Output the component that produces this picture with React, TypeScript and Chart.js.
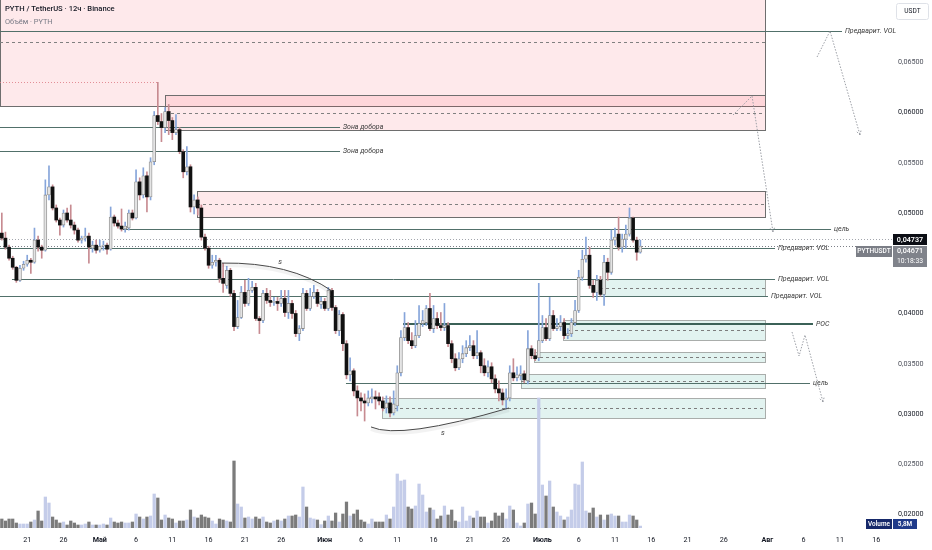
import { useEffect, useRef } from 'react';
import { Chart, registerables } from 'chart.js';

Chart.register(...registerables);

// ---- time axis: days counted from 21 April (12h candles) ----
const FIRST_CANDLE_DAY = -3.5;
const CANDLE_STEP_DAYS = 0.5;
const X_MIN_DAY = -3.75;
const X_MAX_DAY = 119.18;

const X_TICK_DAYS = [0, 5, 10, 15, 20, 25, 30, 35, 41, 46, 51, 56, 61, 66, 71, 76, 81, 86, 91, 96, 102, 107, 112, 117];
const X_TICK_LABELS = ['21', '26', 'Май', '6', '11', '16', '21', '26', 'Июн', '6', '11', '16', '21', '26', 'Июль', '6', '11', '16', '21', '26', 'Авг', '6', '11', '16'];
const MONTH_LABELS = ['Май', 'Июн', 'Июль', 'Авг'];

const PRICE_TICKS = [0.02, 0.025, 0.03, 0.035, 0.04, 0.045, 0.05, 0.055, 0.06, 0.065];
const PRICE_MIN = 0.018657;
const PRICE_MAX = 0.071194;

// ---- PYTH/USDT 12h candles ----
const OPEN = [
  0.0480, 0.0475, 0.0466, 0.0455, 0.0446, 0.0433, 0.0445, 0.0449, 0.0453, 0.0451,
  0.0473, 0.0466, 0.0463, 0.0518, 0.0526, 0.0505, 0.0493, 0.0488, 0.0500, 0.0493,
  0.0488, 0.0483, 0.0473, 0.0475, 0.0477, 0.0465, 0.0468, 0.0463, 0.0467, 0.0468,
  0.0464, 0.0496, 0.0490, 0.0487, 0.0484, 0.0485, 0.0500, 0.0495, 0.0531, 0.0518,
  0.0537, 0.0516, 0.0551, 0.0597, 0.0591, 0.0585, 0.0601, 0.0592, 0.0580, 0.0583,
  0.0561, 0.0541, 0.0546, 0.0506, 0.0513, 0.0505, 0.0476, 0.0465, 0.0448, 0.0451,
  0.0453, 0.0435, 0.0428, 0.0443, 0.0420, 0.0387, 0.0396, 0.0421, 0.0410, 0.0423,
  0.0426, 0.0395, 0.0393, 0.0420, 0.0413, 0.0411, 0.0412, 0.0410, 0.0415, 0.0401,
  0.0410, 0.0400, 0.0380, 0.0385, 0.0420, 0.0405, 0.0417, 0.0421, 0.0409, 0.0412,
  0.0405, 0.0423, 0.0406, 0.0383, 0.0399, 0.0370, 0.0339, 0.0343, 0.0323, 0.0316,
  0.0313, 0.0311, 0.0315, 0.0317, 0.0317, 0.0313, 0.0306, 0.0311, 0.0301, 0.0308,
  0.0341, 0.0376, 0.0386, 0.0373, 0.0368, 0.0378, 0.0390, 0.0391, 0.0405, 0.0385,
  0.0395, 0.0388, 0.0386, 0.0388, 0.0370, 0.0355, 0.0346, 0.0355, 0.0360, 0.0366,
  0.0368, 0.0358, 0.0361, 0.0348, 0.0341, 0.0347, 0.0335, 0.0325, 0.0321, 0.0314,
  0.0316, 0.0341, 0.0336, 0.0338, 0.0340, 0.0333, 0.0365, 0.0358, 0.0356, 0.0373,
  0.0386, 0.0375, 0.0398, 0.0385, 0.0387, 0.0391, 0.0378, 0.0380, 0.0391, 0.0403,
  0.0436, 0.0454, 0.0458, 0.0428, 0.0421, 0.0433, 0.0419, 0.0451, 0.0441, 0.0473,
  0.0479, 0.0466, 0.0474, 0.0479, 0.0495, 0.0473, 0.0461,
];
const HIGH = [
  0.0500, 0.0481, 0.0468, 0.0457, 0.0447, 0.0448, 0.0452, 0.0458, 0.0455, 0.0485,
  0.0477, 0.0468, 0.0533, 0.0547, 0.0528, 0.0508, 0.0495, 0.0503, 0.0505, 0.0508,
  0.0491, 0.0485, 0.0477, 0.0485, 0.0480, 0.0472, 0.0473, 0.0473, 0.0472, 0.0470,
  0.0506, 0.0498, 0.0493, 0.0504, 0.0491, 0.0503, 0.0503, 0.0543, 0.0535, 0.0545,
  0.0541, 0.0555, 0.0601, 0.0630, 0.0599, 0.0605, 0.0608, 0.0595, 0.0598, 0.0585,
  0.0563, 0.0566, 0.0548, 0.0518, 0.0516, 0.0508, 0.0479, 0.0467, 0.0458, 0.0458,
  0.0455, 0.0450, 0.0447, 0.0445, 0.0423, 0.0413, 0.0427, 0.0433, 0.0435, 0.0432,
  0.0430, 0.0397, 0.0423, 0.0425, 0.0423, 0.0416, 0.0416, 0.0423, 0.0423, 0.0423,
  0.0413, 0.0403, 0.0388, 0.0425, 0.0423, 0.0425, 0.0428, 0.0424, 0.0416, 0.0415,
  0.0426, 0.0425, 0.0408, 0.0403, 0.0401, 0.0373, 0.0356, 0.0345, 0.0328, 0.0321,
  0.0320, 0.0323, 0.0325, 0.0323, 0.0321, 0.0317, 0.0318, 0.0317, 0.0323, 0.0348,
  0.0383, 0.0401, 0.0391, 0.0381, 0.0393, 0.0408, 0.0403, 0.0408, 0.0420, 0.0408,
  0.0401, 0.0401, 0.0410, 0.0391, 0.0373, 0.0360, 0.0361, 0.0368, 0.0373, 0.0378,
  0.0373, 0.0383, 0.0363, 0.0355, 0.0353, 0.0351, 0.0339, 0.0333, 0.0325, 0.0325,
  0.0348, 0.0355, 0.0347, 0.0348, 0.0343, 0.0383, 0.0368, 0.0364, 0.0430, 0.0398,
  0.0395, 0.0416, 0.0403, 0.0395, 0.0398, 0.0395, 0.0385, 0.0395, 0.0413, 0.0443,
  0.0463, 0.0476, 0.0466, 0.0433, 0.0438, 0.0437, 0.0458, 0.0455, 0.0483, 0.0485,
  0.0496, 0.0479, 0.0488, 0.0505, 0.0496, 0.0476, 0.0473,
];
const LOW = [
  0.0473, 0.0464, 0.0453, 0.0444, 0.0431, 0.0432, 0.0443, 0.0447, 0.0440, 0.0450,
  0.0462, 0.0455, 0.0462, 0.0513, 0.0503, 0.0491, 0.0478, 0.0486, 0.0491, 0.0485,
  0.0479, 0.0471, 0.0470, 0.0472, 0.0450, 0.0461, 0.0460, 0.0461, 0.0463, 0.0459,
  0.0463, 0.0487, 0.0485, 0.0482, 0.0481, 0.0483, 0.0493, 0.0494, 0.0513, 0.0515,
  0.0501, 0.0513, 0.0548, 0.0588, 0.0571, 0.0580, 0.0578, 0.0573, 0.0578, 0.0559,
  0.0535, 0.0538, 0.0501, 0.0499, 0.0498, 0.0473, 0.0463, 0.0445, 0.0445, 0.0447,
  0.0431, 0.0421, 0.0425, 0.0417, 0.0383, 0.0385, 0.0395, 0.0407, 0.0408, 0.0421,
  0.0393, 0.0380, 0.0391, 0.0410, 0.0407, 0.0408, 0.0403, 0.0407, 0.0397, 0.0395,
  0.0395, 0.0377, 0.0373, 0.0383, 0.0403, 0.0403, 0.0415, 0.0407, 0.0405, 0.0403,
  0.0403, 0.0403, 0.0380, 0.0378, 0.0363, 0.0335, 0.0333, 0.0318, 0.0298, 0.0303,
  0.0293, 0.0308, 0.0311, 0.0305, 0.0309, 0.0303, 0.0301, 0.0297, 0.0299, 0.0303,
  0.0338, 0.0373, 0.0370, 0.0365, 0.0366, 0.0376, 0.0387, 0.0388, 0.0383, 0.0381,
  0.0385, 0.0383, 0.0383, 0.0367, 0.0351, 0.0343, 0.0344, 0.0351, 0.0357, 0.0363,
  0.0355, 0.0355, 0.0341, 0.0338, 0.0337, 0.0331, 0.0321, 0.0313, 0.0309, 0.0305,
  0.0313, 0.0333, 0.0333, 0.0334, 0.0331, 0.0330, 0.0355, 0.0353, 0.0353, 0.0371,
  0.0373, 0.0373, 0.0383, 0.0383, 0.0383, 0.0375, 0.0375, 0.0377, 0.0388, 0.0401,
  0.0433, 0.0451, 0.0425, 0.0416, 0.0413, 0.0417, 0.0408, 0.0433, 0.0439, 0.0468,
  0.0463, 0.0461, 0.0465, 0.0477, 0.0471, 0.0453, 0.0460,
];
const CLOSE = [
  0.0475, 0.0466, 0.0455, 0.0446, 0.0433, 0.0445, 0.0449, 0.0453, 0.0451, 0.0473,
  0.0466, 0.0463, 0.0518, 0.0526, 0.0505, 0.0493, 0.0488, 0.0500, 0.0493, 0.0488,
  0.0483, 0.0473, 0.0475, 0.0477, 0.0466, 0.0468, 0.0463, 0.0467, 0.0468, 0.0464,
  0.0496, 0.0490, 0.0487, 0.0484, 0.0487, 0.0500, 0.0495, 0.0531, 0.0518, 0.0537,
  0.0516, 0.0551, 0.0597, 0.0591, 0.0585, 0.0601, 0.0592, 0.0580, 0.0583, 0.0561,
  0.0541, 0.0546, 0.0506, 0.0513, 0.0505, 0.0476, 0.0465, 0.0448, 0.0451, 0.0453,
  0.0435, 0.0430, 0.0443, 0.0420, 0.0387, 0.0396, 0.0421, 0.0410, 0.0423, 0.0426,
  0.0395, 0.0393, 0.0420, 0.0413, 0.0411, 0.0412, 0.0410, 0.0415, 0.0401, 0.0410,
  0.0400, 0.0380, 0.0385, 0.0420, 0.0405, 0.0417, 0.0421, 0.0410, 0.0412, 0.0405,
  0.0423, 0.0406, 0.0383, 0.0399, 0.0370, 0.0339, 0.0343, 0.0323, 0.0316, 0.0313,
  0.0311, 0.0316, 0.0317, 0.0315, 0.0313, 0.0306, 0.0311, 0.0301, 0.0310, 0.0341,
  0.0376, 0.0386, 0.0373, 0.0368, 0.0378, 0.0390, 0.0393, 0.0405, 0.0385, 0.0395,
  0.0388, 0.0386, 0.0388, 0.0370, 0.0355, 0.0346, 0.0355, 0.0360, 0.0366, 0.0368,
  0.0358, 0.0361, 0.0348, 0.0341, 0.0347, 0.0335, 0.0325, 0.0321, 0.0314, 0.0316,
  0.0341, 0.0336, 0.0339, 0.0340, 0.0334, 0.0365, 0.0358, 0.0355, 0.0373, 0.0386,
  0.0375, 0.0398, 0.0385, 0.0387, 0.0391, 0.0378, 0.0380, 0.0391, 0.0403, 0.0436,
  0.0454, 0.0458, 0.0428, 0.0421, 0.0433, 0.0419, 0.0451, 0.0441, 0.0473, 0.0476,
  0.0466, 0.0474, 0.0479, 0.0495, 0.0473, 0.0461, 0.04671,
];
// volume per candle, millions of PYTH
const VOLUME_M = [
  27, 21, 27, 27, 15, 12, 12, 12, 18, 24,
  51, 21, 93, 75, 33, 24, 15, 18, 9, 21,
  15, 9, 9, 12, 18, 9, 9, 9, 12, 9,
  30, 18, 15, 18, 15, 15, 18, 42, 33, 27,
  33, 36, 102, 90, 24, 39, 30, 27, 15, 21,
  21, 24, 54, 33, 30, 39, 33, 30, 21, 12,
  27, 24, 21, 18, 201, 72, 63, 30, 33, 27,
  33, 27, 33, 18, 15, 21, 24, 21, 27, 36,
  36, 39, 33, 123, 63, 30, 27, 24, 10, 21,
  36, 21, 45, 18, 42, 78, 36, 42, 54, 24,
  18, 12, 27, 18, 18, 18, 39, 27, 63, 162,
  141, 144, 63, 57, 66, 132, 99, 48, 60, 54,
  27, 36, 66, 39, 54, 21, 18, 63, 21, 36,
  30, 51, 33, 33, 15, 21, 45, 36, 45, 27,
  66, 54, 15, 6, 15, 72, 75, 42, 390, 129,
  96, 141, 63, 48, 36, 24, 33, 54, 132, 129,
  198, 51, 45, 60, 33, 39, 24, 39, 42, 36,
  36, 18, 18, 39, 36, 24, 5.8,
];
const VOLUME_AXIS_MAX = 1584;

const LAST_PRICE_LABEL = '0,04671';
const COUNTDOWN = '10:18:33';
const MARKED_PRICE = 0.04737;
const LAST_VOLUME_LABEL = '5,8M';

// ---- drawings (day, price) ----
const RED_ZONES = [
  { from: -3.75, to: 101.68, top: 0.07338, bottom: 0.06065 },
  { from: 18.99, to: 101.68, top: 0.06174, bottom: 0.05826 },
  { from: 23.4, to: 101.68, top: 0.05219, bottom: 0.0496 },
];
const GREEN_ZONES = [
  { from: 78.94, to: 101.68, top: 0.04343, bottom: 0.04174 },
  { from: 73.84, to: 101.68, top: 0.03935, bottom: 0.03736 },
  { from: 69.84, to: 101.68, top: 0.03617, bottom: 0.03517 },
  { from: 68.05, to: 101.68, top: 0.03398, bottom: 0.03259 },
  { from: 48.9, to: 101.68, top: 0.03159, bottom: 0.0296 },
];
const LEVELS = [
  { from: -3.75, to: 112.29, price: 0.06806, label: 'Предварит. VOL', bold: false },
  { from: -3.75, to: 43.11, price: 0.05856, label: 'Зона добора', bold: false },
  { from: -3.75, to: 43.11, price: 0.05617, label: 'Зона добора', bold: false },
  { from: 13.2, to: 110.78, price: 0.04841, label: 'цель', bold: false },
  { from: -3.75, to: 103.06, price: 0.04652, label: 'Предварит. VOL', bold: false },
  { from: -2.1, to: 103.06, price: 0.04343, label: 'Предварит. VOL', bold: false },
  { from: -3.75, to: 102.09, price: 0.04174, label: 'Предварит. VOL', bold: false },
  { from: 51.79, to: 108.29, price: 0.03896, label: 'POC', bold: true },
  { from: 43.93, to: 107.88, price: 0.03308, label: 'цель', bold: false },
];
const HIGH_MARK = { from: -3.75, to: 18.03, price: 0.06303 };
const ARCS = [
  { p0: [26.85, 0.04502], c: [36.22, 0.04512], p1: [42.01, 0.04224], label: [34.84, 0.04512] },
  { p0: [47.38, 0.02871], c: [51.38, 0.02741], p1: [66.4, 0.0306], label: [57.3, 0.02811] },
];
const PATHS = [
  [[108.85, 0.06552], [110.64, 0.06811], [114.77, 0.05776]],
  [[97.27, 0.05975], [99.89, 0.06164], [102.78, 0.04811]],
  [[105.4, 0.03816], [106.37, 0.03577], [107.19, 0.03786], [109.67, 0.03119]],
];

const FONT = 'Roboto, "Liberation Sans", sans-serif';

const candleDays = OPEN.map((_, i) => FIRST_CANDLE_DAY + CANDLE_STEP_DAYS * i);
const isUp = OPEN.map((o, i) => CLOSE[i] >= o);

const crisp = (v: number) => Math.round(v) + 0.5;

const drawingsPlugin = {
  id: 'drawings',
  beforeDatasetsDraw(chart: any) {
    const { ctx, chartArea: a, scales } = chart;
    const X = (d: number) => scales.x.getPixelForValue(d);
    const Y = (p: number) => scales.y.getPixelForValue(p);
    ctx.save();
    ctx.beginPath();
    ctx.rect(a.left, a.top, a.right - a.left, a.bottom - a.top);
    ctx.clip();

    const hline = (x0: number, x1: number, y: number) => {
      ctx.beginPath();
      ctx.moveTo(x0, y);
      ctx.lineTo(x1, y);
      ctx.stroke();
    };

    const zone = (z: any, fill: string, stroke: string, mid: string) => {
      const x0 = Math.round(X(z.from)), x1 = Math.round(X(z.to));
      const y0 = Math.round(Y(z.top)), y1 = Math.round(Y(z.bottom));
      ctx.fillStyle = fill;
      ctx.fillRect(x0, y0, x1 - x0, y1 - y0);
      ctx.setLineDash([]);
      ctx.lineWidth = 1;
      ctx.strokeStyle = stroke;
      ctx.strokeRect(x0 + 0.5, y0 + 0.5, x1 - x0, y1 - y0);
      ctx.setLineDash([3, 3]);
      ctx.strokeStyle = mid;
      hline(x0, x1, crisp((y0 + y1) / 2));
      ctx.setLineDash([]);
    };
    RED_ZONES.forEach((z) => zone(z, 'rgba(242,54,69,0.11)', '#6e6e6e', '#808080'));
    GREEN_ZONES.forEach((z) => zone(z, 'rgba(34,166,140,0.13)', '#a9adab', '#7d7d7d'));

    // high marker
    ctx.strokeStyle = 'rgba(220,120,130,0.8)';
    ctx.setLineDash([1, 2]);
    hline(X(HIGH_MARK.from), X(HIGH_MARK.to), crisp(Y(HIGH_MARK.price)));

    // marked price & current price dotted lines
    ctx.strokeStyle = '#a3a6ad';
    hline(a.left, a.right, crisp(Y(MARKED_PRICE)));
    ctx.strokeStyle = '#7c7f87';
    hline(a.left, a.right, crisp(Y(CLOSE[CLOSE.length - 1])));
    ctx.setLineDash([]);

    // levels
    LEVELS.forEach((l) => {
      ctx.strokeStyle = l.bold ? '#3b6157' : '#51706a';
      ctx.lineWidth = l.bold ? 2 : 1;
      const y = l.bold ? Math.round(Y(l.price)) : crisp(Y(l.price));
      hline(X(l.from), X(l.to), y);
    });
    ctx.restore();
  },
  afterDatasetsDraw(chart: any) {
    const { ctx, chartArea: a, scales } = chart;
    const X = (d: number) => scales.x.getPixelForValue(d);
    const Y = (p: number) => scales.y.getPixelForValue(p);
    ctx.save();
    ctx.beginPath();
    ctx.rect(a.left, a.top, chart.width - a.left, a.bottom - a.top);
    ctx.clip();

    // level labels
    ctx.font = `italic 7px ${FONT}`;
    ctx.textBaseline = 'middle';
    ctx.textAlign = 'left';
    ctx.fillStyle = '#3a3a3a';
    LEVELS.forEach((l) => ctx.fillText(l.label, X(l.to) + 3, Y(l.price)));

    // arcs
    ARCS.forEach((arc) => {
      ctx.strokeStyle = 'rgba(0,0,0,0.05)';
      ctx.lineWidth = 4;
      ctx.beginPath();
      ctx.moveTo(X(arc.p0[0]), Y(arc.p0[1]) + 2);
      ctx.quadraticCurveTo(X(arc.c[0]), Y(arc.c[1]) + 2, X(arc.p1[0]), Y(arc.p1[1]) + 2);
      ctx.stroke();
      ctx.strokeStyle = '#484848';
      ctx.lineWidth = 1;
      ctx.beginPath();
      ctx.moveTo(X(arc.p0[0]), Y(arc.p0[1]));
      ctx.quadraticCurveTo(X(arc.c[0]), Y(arc.c[1]), X(arc.p1[0]), Y(arc.p1[1]));
      ctx.stroke();
      ctx.font = `italic 7.5px ${FONT}`;
      ctx.textAlign = 'center';
      ctx.fillStyle = '#333';
      ctx.fillText('s', X(arc.label[0]), Y(arc.label[1]));
    });

    // dotted forecast paths with arrow heads
    ctx.strokeStyle = '#9c9fa6';
    ctx.lineWidth = 1;
    PATHS.forEach((path) => {
      const pts = path.map(([d, p]) => [X(d), Y(p)]);
      ctx.setLineDash([1.5, 1.5]);
      ctx.beginPath();
      ctx.moveTo(pts[0][0], pts[0][1]);
      for (let i = 1; i < pts.length; i++) ctx.lineTo(pts[i][0], pts[i][1]);
      ctx.stroke();
      const [ex, ey] = pts[pts.length - 1];
      const [sx, sy] = pts[pts.length - 2];
      const ang = Math.atan2(ey - sy, ex - sx);
      ctx.beginPath();
      for (const s of [-0.5, 0.5]) {
        ctx.moveTo(ex, ey);
        ctx.lineTo(ex - 6 * Math.cos(ang + s), ey - 6 * Math.sin(ang + s));
      }
      ctx.stroke();
    });
    ctx.setLineDash([]);
    ctx.restore();
  },
  afterDraw(chart: any) {
    const { ctx, scales } = chart;
    const Y = (p: number) => scales.y.getPixelForValue(p);
    ctx.save();
    ctx.textBaseline = 'middle';

    // header
    ctx.textAlign = 'left';
    ctx.font = `500 7.6px ${FONT}`;
    ctx.fillStyle = '#131722';
    ctx.fillText('PYTH / TetherUS · 12ч · Binance', 5, 9);
    ctx.font = `7.4px ${FONT}`;
    ctx.fillStyle = '#787b86';
    ctx.fillText('Объём · PYTH', 5, 22);

    // currency box
    ctx.strokeStyle = '#dfe2e8';
    ctx.fillStyle = '#ffffff';
    ctx.beginPath();
    ctx.roundRect(896.5, 3.5, 32, 16, 2);
    ctx.fill();
    ctx.stroke();
    ctx.textAlign = 'center';
    ctx.fillStyle = '#131722';
    ctx.font = `6.6px ${FONT}`;
    ctx.fillText('USDT', 912.5, 11.8);

    // price badges
    const ym = Y(MARKED_PRICE);
    ctx.fillStyle = '#0c0e15';
    ctx.fillRect(893, Math.round(ym - 5.5), 34, 11);
    ctx.fillStyle = '#ffffff';
    ctx.font = `600 7.2px ${FONT}`;
    ctx.fillText('0,04737', 910, ym + 0.3);
    const top = Math.round(ym - 5.5) + 12;
    ctx.fillStyle = '#80838b';
    ctx.fillRect(893, top, 34, 21);
    ctx.fillStyle = '#7b7e86';
    ctx.fillRect(856, top, 36, 11);
    ctx.fillStyle = '#ffffff';
    ctx.font = `500 7.2px ${FONT}`;
    ctx.fillText(LAST_PRICE_LABEL, 910, top + 5.5);
    ctx.font = `6.8px ${FONT}`;
    ctx.fillText(COUNTDOWN, 910, top + 15);
    ctx.font = `500 6.6px ${FONT}`;
    ctx.fillText('PYTHUSDT', 874, top + 5.8);

    // volume badge
    ctx.fillStyle = '#16296a';
    ctx.fillRect(866, 519, 26, 10);
    ctx.fillStyle = '#1f3a8a';
    ctx.fillRect(893, 519, 24, 10);
    ctx.fillStyle = '#ffffff';
    ctx.font = `600 6.4px ${FONT}`;
    ctx.fillText('Volume', 879, 524.3);
    ctx.fillText(LAST_VOLUME_LABEL, 905, 524.3);
    ctx.restore();
  },
};

export default function App() {
  const ref = useRef<HTMLCanvasElement>(null);
  useEffect(() => {
    document.body.style.margin = '0';
    const canvas = ref.current;
    if (!canvas) return;
    const chart = new Chart(canvas, {
      type: 'bar',
      data: {
        datasets: [
          {
            label: 'Объём',
            data: candleDays.map((d, i) => ({ x: d, y: VOLUME_M[i] })),
            yAxisID: 'yv',
            backgroundColor: isUp.map((u) => (u ? '#c4cce9' : '#7b7b7b')),
            barThickness: 2.6,
            grouped: false,
            order: 3,
          } as any,
          {
            label: 'wick',
            data: candleDays.map((d, i) => ({ x: d, y: [LOW[i], HIGH[i]] })),
            yAxisID: 'y',
            backgroundColor: isUp.map((u) => (u ? '#86a5da' : '#c78b91')),
            barThickness: 1,
            grouped: false,
            order: 2,
          } as any,
          {
            label: 'body',
            data: candleDays.map((d, i) => ({ x: d, y: [Math.min(OPEN[i], CLOSE[i]), Math.max(OPEN[i], CLOSE[i])] })),
            yAxisID: 'y',
            backgroundColor: isUp.map((u) => (u ? '#e4e4e4' : '#111111')),
            borderColor: isUp.map((u) => (u ? '#8a8a8a' : '#111111')),
            borderWidth: isUp.map((u) => (u ? 0.8 : 0)),
            borderSkipped: false,
            barThickness: 3,
            minBarLength: 1.2,
            grouped: false,
            order: 1,
          } as any,
        ],
      },
      options: {
        animation: false,
        responsive: false,
        maintainAspectRatio: false,
        layout: { padding: 0 },
        plugins: { legend: { display: false }, tooltip: { enabled: false } },
        scales: {
          x: {
            type: 'linear',
            position: 'bottom',
            offset: false,
            min: X_MIN_DAY,
            max: X_MAX_DAY,
            grid: { display: false, drawTicks: false },
            border: { display: false },
            afterBuildTicks: (s: any) => {
              s.ticks = X_TICK_DAYS.map((v) => ({ value: v }));
            },
            afterFit: (s: any) => {
              s.height = 22;
              s.paddingLeft = 0;
              s.paddingRight = 0;
            },
            ticks: {
              autoSkip: false,
              maxRotation: 0,
              padding: 8,
              color: '#131722',
              font: (c: any) => ({
                size: 7.2,
                family: FONT,
                weight: MONTH_LABELS.includes(X_TICK_LABELS[c.index]) ? 'bold' : 'normal',
              }),
              callback: (_v: any, i: number) => X_TICK_LABELS[i],
            },
          },
          y: {
            type: 'linear',
            position: 'right',
            min: PRICE_MIN,
            max: PRICE_MAX,
            grid: { display: false, drawTicks: false },
            border: { display: false },
            afterBuildTicks: (s: any) => {
              s.ticks = PRICE_TICKS.map((v) => ({ value: v }));
            },
            afterFit: (s: any) => {
              s.width = 40;
              s.paddingTop = 0;
              s.paddingBottom = 0;
            },
            ticks: {
              padding: 6,
              font: { size: 7.2, family: FONT },
              color: (c: any) => (Math.abs(Math.round(c.tick.value * 100) - c.tick.value * 100) < 1e-6 ? '#131722' : '#4c4f5a'),
              callback: (v: any) => Number(v).toFixed(5).replace('.', ','),
            },
          },
          yv: {
            type: 'linear',
            display: false,
            min: 0,
            max: VOLUME_AXIS_MAX,
          },
        },
      } as any,
      plugins: [drawingsPlugin],
    });
    return () => chart.destroy();
  }, []);
  return (
    <div style={{ position: 'absolute', left: 0, top: 0, width: 932, height: 550, background: '#ffffff' }}>
      <canvas ref={ref} width={932} height={550} style={{ width: 932, height: 550, display: 'block' }} />
    </div>
  );
}
